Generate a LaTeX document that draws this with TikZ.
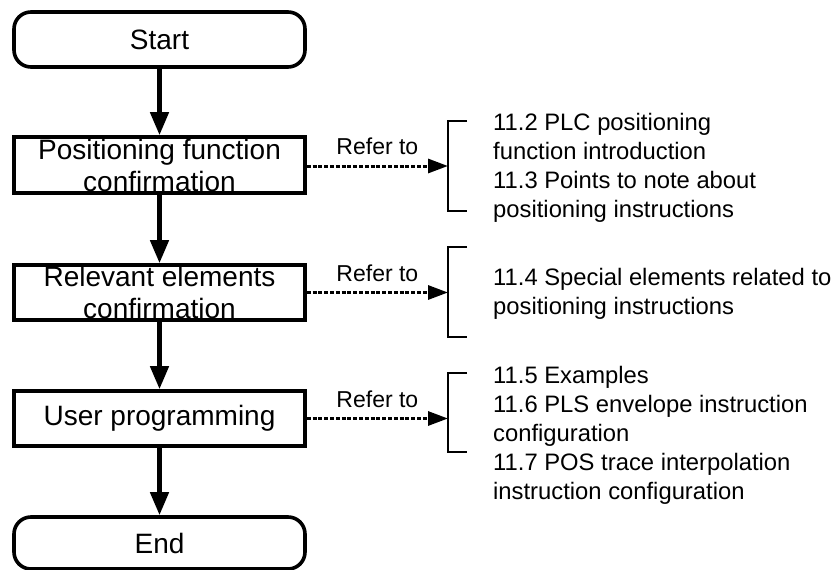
\documentclass[tikz,border=0pt]{standalone}
\usepackage{fontspec}
\setmainfont{Liberation Sans}
\usetikzlibrary{arrows.meta}
\tikzset{
  boxfont/.style={font=\fontsize{28}{32}\selectfont},
  reffont/.style={font=\fontsize{23.8}{28.7}\selectfont},
  termbox/.style={draw, line width=3.6pt, rounded corners=17pt, minimum width=291pt, inner sep=0pt, boxfont, align=center},
  stepbox/.style={draw, line width=3.6pt, minimum width=291pt, inner sep=0pt, boxfont, align=center},
  flow/.style={line width=4.5pt, -{Triangle[length=23pt,width=18pt]}},
  refline/.style={line width=3pt, dash pattern=on 4pt off 1.8pt, -{Triangle[length=20pt,width=14pt]}},
  bracket/.style={line width=2.2pt},
  reflabel/.style={font=\fontsize{23}{27}\selectfont, inner sep=0pt},
  reftext/.style={reffont, inner sep=0pt, anchor=north west, align=left}
}
\begin{document}
\begin{tikzpicture}[x=1pt,y=-1pt]
\useasboundingbox (0,0) rectangle (839,570);

\node[termbox, minimum height=55pt] (start) at (159.5,39.5) {Start};
\node[stepbox, minimum height=56pt] (pf) at (159.5,165) {Positioning function\\confirmation};
\node[stepbox, minimum height=55pt] (re) at (159.5,292.5) {Relevant elements\\confirmation};
\node[stepbox, minimum height=55pt] (up) at (159.5,418.5) {User programming};
\node[termbox, minimum height=52pt] (end) at (159.5,543) {End};

\draw[flow] (start) -- (pf);
\draw[flow] (pf) -- (re);
\draw[flow] (re) -- (up);
\draw[flow] (up) -- (end);

% brackets
\coordinate (b1) at (448,166);
\coordinate (b2) at (448,292.5);
\coordinate (b3) at (448,418.5);
\draw[bracket] (467,121) -- (448,121) -- (448,211) -- (467,211);
\draw[bracket] (467,247) -- (448,247) -- (448,337) -- (467,337);
\draw[bracket] (467,373) -- (448,373) -- (448,452) -- (467,452);

\draw[refline] (pf.east |- b1) -- node[reflabel, midway, above=9.5pt] (l1) {Refer to} (b1);
\draw[refline] (re.east |- b2) -- node[reflabel, midway, above=9.5pt] (l2) {Refer to} (b2);
\draw[refline] (up.east |- b3) -- node[reflabel, midway, above=9.5pt] (l3) {Refer to} (b3);

\node[reftext] (t1) at (493,113.5) {11.2 PLC positioning\\function introduction\\11.3 Points to note about\\positioning instructions};
\node[reftext] (t2) at (493,268.5) {11.4 Special elements related to\\positioning instructions};
\node[reftext, font=\fontsize{23.8}{28.8}\selectfont] (t3) at (493,366.5) {11.5 Examples\\11.6 PLS envelope instruction\\configuration\\11.7 POS trace interpolation\\instruction configuration};
\end{tikzpicture}
\end{document}
